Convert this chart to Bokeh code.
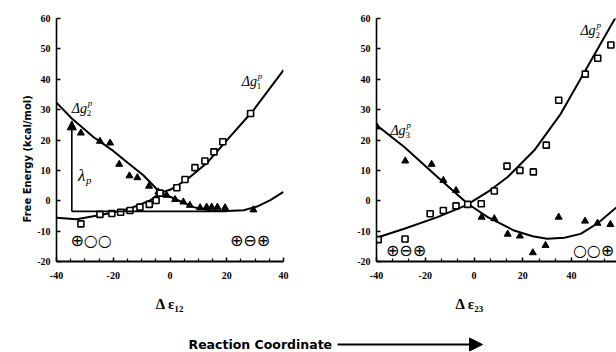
from bokeh.plotting import figure
from bokeh.models import Range1d, FixedTicker, Title, Arrow, NormalHead
from bokeh.layouts import row, column
from bokeh.embed import file_html
from bokeh.resources import INLINE
from bokeh.core.properties import value

# ---------------- shared axis data ----------------
y_ticks = [-20, -10, 0, 10, 20, 30, 40, 50, 60]
y_tick_labels = ["-20", "-10", "0", "10", "20", "30", "40", "50", "60"]

# ---------------- left panel: Δε12 ----------------
left_x_ticks = [-40, -20, 0, 20, 40]
left_x_tick_labels = ["-40", "-20", "0", "20", "40"]
left_x_minor = [-35, -30, -25, -15, -10, -5, 5, 10, 15, 25, 30, 35]

# fitted curve Δg1 (rising)
left_g1_x = [-40, -33, -25, -20, -14, -7, -3.5, 0, 6, 13, 20, 29.4, 40]
left_g1_y = [-5.6, -6.1, -4.8, -3.9, -2.5, 0.1, 2.6, 3.6, 7.0, 12.4, 19.9, 29.8, 43.0]
# fitted curve Δg2 (falling)
left_g2_x = [-40, -34.6, -27, -20, -15, -9.4, -3.5, 2.4, 8.2, 14.1, 20, 26, 31, 35.2, 40]
left_g2_y = [32.3, 27.1, 21.0, 16.4, 12.6, 8.4, 2.7, 0.4, -2.1, -3.2, -3.4, -3.1, -1.8, 0.1, 2.9]
# simulation points
left_tri_x = [-31.4, -24.7, -21.1, -17.9, -14.3, -11.5, -7.4, -4.1, -1.2, 1.8, 4.7, 7.0, 10.6, 12.9, 14.7, 16.7, 19.4, 29.4]
left_tri_y = [22.3, 19.6, 19.0, 12.0, 8.2, 7.6, 4.8, 2.9, 1.8, 0.4, -0.4, -1.5, -2.3, -2.1, -2.1, -2.1, -2.3, -3.0]
left_sq_x = [-31.4, -24.7, -20.5, -17.4, -14.1, -10.6, -7.3, -4.9, -3.5, 2.4, 5.3, 8.8, 12.3, 15.5, 18.6, 28.4]
left_sq_y = [-7.6, -4.5, -4.2, -3.8, -3.2, -2.1, -1.2, 0.1, 2.5, 4.3, 7.0, 10.9, 13.1, 16.1, 19.4, 28.7]

left_label_x = [-34.6, 25.3]
left_label_y = [30.5, 39.4]
left_label_sub = ["2", "1"]
left_state_x = [-27.8, 28.2]
left_state_y = [-13.1, -13.1]
left_state_text = ["⊕○○", "⊕⊖⊕"]
lambda_x = -34.6
lambda_y0 = -3.5
lambda_y1 = 26.3
lambda_base_x1 = 20.0
lambda_label_x = -32.4
lambda_label_y = 8.4

# ---------------- right panel: Δε23 ----------------
right_x_ticks = [-40, -20, 0, 20, 40, 60]
right_x_tick_labels = ["-40", "-20", "0", "20", "40", "60"]
right_x_minor = [-33.3, -26.7, -13.3, -6.7, 6.7, 13.3, 26.7, 33.3, 46.7, 53.3]

right_g2_x = [-40, -28.6, -15, -3.3, 5.6, 13.8, 24.7, 35.6, 46.5, 58.5]
right_g2_y = [-12.2, -9.2, -5.4, -1.5, 2.9, 7.8, 16.6, 28.7, 44.1, 61.0]
right_g3_x = [-40, -28.6, -15, -2.6, 5.6, 16.4, 24, 30, 37, 43.7, 50.7, 58.5]
right_g3_y = [24.9, 17.7, 7.8, -1.0, -5.4, -9.8, -11.7, -12.5, -12.2, -10.9, -7.4, -2.1]
right_sq_x = [-39.3, -28.3, -18.0, -12.6, -7.4, -2.6, 2.95, 8.3, 13.5, 18.8, 24.3, 29.6, 34.7, 45.6, 50.7, 56.1]
right_sq_y = [-12.8, -12.6, -4.3, -3.2, -1.7, -1.2, -1.0, 3.2, 11.4, 10.0, 9.5, 18.3, 33.1, 41.7, 46.9, 51.3]
right_tri_x = [-39.8, -28.2, -17.4, -12.6, -7.4, 3.1, 8.3, 13.8, 18.8, 24.1, 29.3, 34.7, 45.5, 50.6, 55.9]
right_tri_y = [24.3, 13.1, 12.0, 6.7, 3.4, -5.4, -5.9, -11.0, -11.6, -17.1, -14.7, -5.4, -6.7, -7.4, -7.8]

right_label_x = [-34.3, 43.6]
right_label_y = [23.2, 56.2]
right_label_sub = ["3", "2"]
right_state_x = [-27.9, 49.0]
right_state_y = [-16.4, -16.4]
right_state_text = ["⊕⊖⊕", "○○⊕"]

y_title = "Free Energy (kcal/mol)"
left_x_title = "Δ ε₁₂"
right_x_title = "Δ ε₂₃"
caption = "Reaction Coordinate"

SERIF = "Liberation Serif"


def style(p, xt, xl, xm):
    p.xgrid.visible = False
    p.ygrid.visible = False
    p.outline_line_color = None
    p.background_fill_color = "white"
    p.border_fill_color = "white"
    p.xaxis.ticker = FixedTicker(ticks=xt, minor_ticks=xm)
    p.xaxis.major_label_overrides = dict(zip(xt, xl))
    p.yaxis.ticker = FixedTicker(ticks=y_ticks, minor_ticks=[])
    p.yaxis.major_label_overrides = dict(zip(y_ticks, y_tick_labels))
    for ax in (p.xaxis[0], p.yaxis[0]):
        ax.axis_line_color = "black"
        ax.major_tick_line_color = "black"
        ax.minor_tick_line_color = "black"
        ax.major_tick_in = 4
        ax.major_tick_out = 0
        ax.minor_tick_in = 3
        ax.minor_tick_out = 0
        ax.major_tick_line_width = 1.5
        ax.minor_tick_line_width = 1.2
        ax.major_label_text_font = SERIF
        ax.major_label_text_font_style = "bold"
        ax.major_label_text_font_size = "10px"
        ax.major_label_text_color = "black"
    p.xaxis.axis_line_width = 2.2
    p.yaxis.axis_line_width = 1.6
    p.xaxis.major_label_standoff = 10
    p.yaxis.major_label_standoff = 6


def curve_labels(p, xs, ys, subs):
    p.text(x=xs, y=ys, text=["Δg"] * len(xs), text_font=value(SERIF), text_font_style="italic",
           text_font_size="14px", text_align="left", text_baseline="middle", text_color="black")
    p.text(x=xs, y=ys, text=subs, text_font=value(SERIF), text_font_size="9px",
           text_align="left", text_baseline="middle", text_color="black", x_offset=15, y_offset=5)
    p.text(x=xs, y=ys, text=["p"] * len(xs), text_font=value(SERIF), text_font_style="italic",
           text_font_size="9px", text_align="left", text_baseline="middle", text_color="black",
           x_offset=16, y_offset=-5)


def states(p, xs, ys, txt):
    p.text(x=xs, y=ys, text=txt, text_font=value("DejaVu Sans"), text_font_size="16px",
           text_align="center", text_baseline="middle", text_color="black")


def x_title(p, txt, align, offset):
    # small blank spacer title pushes the axis title down a little
    p.add_layout(Title(text=" ", text_font_size="4px", standoff=0), "below")
    p.add_layout(Title(text=txt, align=align, offset=offset,
                       text_font=SERIF, text_font_style="bold", text_font_size="15px",
                       text_color="black"), "below")


# ---------------- left figure ----------------
p1 = figure(width=320, height=318, x_range=Range1d(-40, 40), y_range=Range1d(-20, 60),
            toolbar_location=None, output_backend="svg",
            min_border_left=56, min_border_right=37, min_border_top=18, min_border_bottom=57)
style(p1, left_x_ticks, left_x_tick_labels, left_x_minor)

p1.line(left_g1_x, left_g1_y, line_color="black", line_width=2)
p1.line(left_g2_x, left_g2_y, line_color="black", line_width=2)
p1.scatter(left_tri_x, left_tri_y, marker="triangle", size=7, fill_color="black", line_color="black")
p1.scatter(left_sq_x, left_sq_y, marker="square", size=6, fill_color="white", line_color="black", line_width=1.6)

p1.line([lambda_x, lambda_base_x1], [lambda_y0, lambda_y0], line_color="black", line_width=1.6)
p1.add_layout(Arrow(end=NormalHead(size=9, fill_color="black", line_color="black"),
                    x_start=lambda_x, y_start=lambda_y0, x_end=lambda_x, y_end=lambda_y1,
                    line_color="black", line_width=1.6))
p1.text(x=[lambda_label_x], y=[lambda_label_y], text=["λ"], text_font=value(SERIF),
        text_font_style="italic", text_font_size="17px", text_align="left", text_baseline="middle",
        text_color="black")
p1.text(x=[lambda_label_x], y=[lambda_label_y], text=["p"], text_font=value(SERIF),
        text_font_style="italic", text_font_size="11px", text_align="left", text_baseline="middle",
        text_color="black", x_offset=8, y_offset=5)

curve_labels(p1, left_label_x, left_label_y, left_label_sub)
states(p1, left_state_x, left_state_y, left_state_text)

p1.add_layout(Title(text=y_title, align="left", offset=39, standoff=4,
                    text_font="DejaVu Sans", text_font_style="bold", text_font_size="10px",
                    text_color="black"), "left")
x_title(p1, left_x_title, "center", 0)

# ---------------- right figure ----------------
p2 = figure(width=296, height=318, x_range=Range1d(-40, 58.4), y_range=Range1d(-20, 60),
            toolbar_location=None, output_backend="svg",
            min_border_left=56, min_border_right=0, min_border_top=18, min_border_bottom=57)
style(p2, right_x_ticks, right_x_tick_labels, right_x_minor)

p2.line(right_g2_x, right_g2_y, line_color="black", line_width=2)
p2.line(right_g3_x, right_g3_y, line_color="black", line_width=2)
p2.scatter(right_tri_x, right_tri_y, marker="triangle", size=7, fill_color="black", line_color="black")
p2.scatter(right_sq_x, right_sq_y, marker="square", size=6, fill_color="white", line_color="black", line_width=1.6)

curve_labels(p2, right_label_x, right_label_y, right_label_sub)
states(p2, right_state_x, right_state_y, right_state_text)

x_title(p2, right_x_title, "left", 79)

# ---------------- bottom caption ----------------
p3 = figure(width=616, height=34, x_range=Range1d(0, 616), y_range=Range1d(0, 34),
            toolbar_location=None, output_backend="svg", min_border=0)
p3.axis.visible = False
p3.xgrid.visible = False
p3.ygrid.visible = False
p3.outline_line_color = None
p3.text(x=[188], y=[8], text=[caption], text_font=value("DejaVu Sans"),
        text_font_style="bold", text_font_size="12.5px", text_align="left", text_baseline="middle",
        text_color="black")
p3.add_layout(Arrow(end=NormalHead(size=13, fill_color="black", line_color="black"),
                    x_start=337, y_start=8, x_end=482, y_end=8, line_color="black", line_width=1.8))

layout = column(row(p1, p2), p3)
open("out.html", "w").write(file_html(layout, INLINE))
